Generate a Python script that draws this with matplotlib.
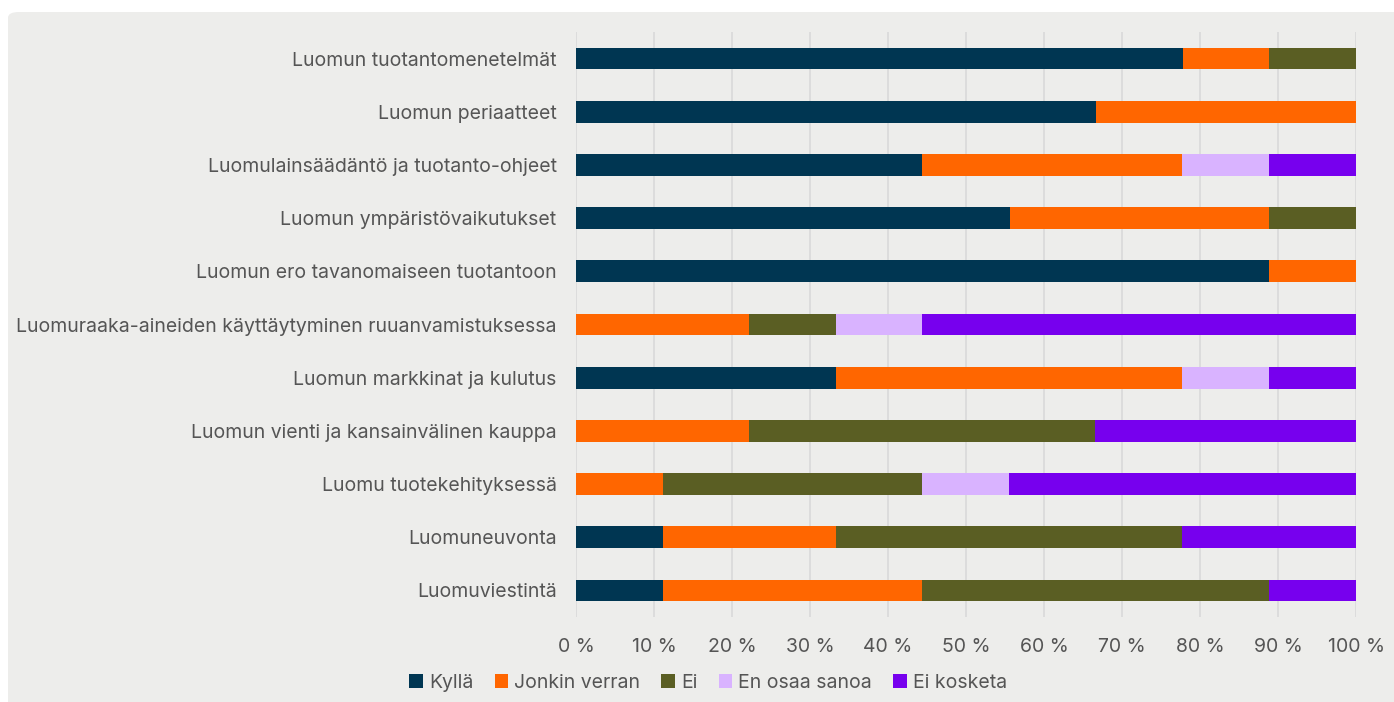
import numpy as np
import matplotlib
matplotlib.use("Agg")
import matplotlib.pyplot as plt
from matplotlib.patches import FancyBboxPatch

plt.rcParams['font.family'] = ['Inter', 'DejaVu Sans']

# Aiheet (ylhäältä alas)
categories = [
    "Luomun tuotantomenetelmät",
    "Luomun periaatteet",
    "Luomulainsäädäntö ja tuotanto-ohjeet",
    "Luomun ympäristövaikutukset",
    "Luomun ero tavanomaiseen tuotantoon",
    "Luomuraaka-aineiden käyttäytyminen ruuanvamistuksessa",
    "Luomun markkinat ja kulutus",
    "Luomun vienti ja kansainvälinen kauppa",
    "Luomu tuotekehityksessä",
    "Luomuneuvonta",
    "Luomuviestintä",
]

# Osuudet prosentteina
kylla = [77.8, 66.7, 44.4, 55.6, 88.9, 0, 33.3, 0, 0, 11.1, 11.1]
jonkin_verran = [11.1, 33.3, 33.3, 33.3, 11.1, 22.2, 44.4, 22.2, 11.1, 22.2, 33.3]
ei = [11.1, 0, 0, 11.1, 0, 11.1, 0, 44.4, 33.3, 44.4, 44.4]
en_osaa = [0, 0, 11.1, 0, 0, 11.1, 11.1, 0, 11.1, 0, 0]
ei_koske = [0, 0, 11.2, 0, 0, 55.6, 11.2, 33.4, 44.5, 22.3, 11.2]

series = [
    ("Kyllä", kylla, "#003652"),
    ("Jonkin verran", jonkin_verran, "#ff6600"),
    ("Ei", ei, "#5a5e23"),
    ("En osaa sanoa", en_osaa, "#d9b3ff"),
    ("Ei kosketa", ei_koske, "#7700ee"),
]

bg = "#ededeb"
text_col = "#555555"

fig = plt.figure(figsize=(13.94, 7.02), dpi=100)
fig.patch.set_facecolor("white")

# harmaa paneeli taustalle
panel = FancyBboxPatch((8 / 1394, -0.05), 1.2, 0.05 + 1 - 12 / 702,
                       boxstyle="round,pad=0,rounding_size=0.008",
                       transform=fig.transFigure, facecolor=bg,
                       edgecolor="none", zorder=-10)
fig.patches.append(panel)

ax = fig.add_axes([576 / 1394, 1 - 617 / 702, 780 / 1394, 585 / 702])
ax.set_facecolor("none")

y = np.arange(len(categories))
left = np.zeros(len(categories))
for name, vals, col in series:
    vals = np.array(vals)
    ax.barh(y, vals, left=left, height=0.41, color=col, label=name, zorder=3)
    left += vals

ax.set_ylim(len(categories) - 0.5, -0.5)
ax.set_xlim(0, 100)
ax.set_yticks(y)
ax.set_yticklabels(categories, fontsize=14, color=text_col)
ax.set_xticks(np.arange(0, 101, 10))
ax.set_xticklabels([f"{v} %" for v in range(0, 101, 10)], fontsize=14, color=text_col)
ax.tick_params(axis="y", length=0, pad=14)
ax.tick_params(axis="x", length=0, pad=15)
ax.grid(axis="x", color="#d9d9d9", linewidth=1.2, zorder=0)
for s in ax.spines.values():
    s.set_visible(False)

handles, labels = ax.get_legend_handles_labels()
leg = fig.legend(handles, labels, loc="center", bbox_to_anchor=(0.508, 1 - 683 / 702),
                 ncol=5, frameon=False, fontsize=14, handlelength=0.7,
                 handleheight=0.7, handletextpad=0.3, columnspacing=1.1)
for t in leg.get_texts():
    t.set_color(text_col)

fig.savefig("out.png", dpi=100, facecolor=fig.get_facecolor())
